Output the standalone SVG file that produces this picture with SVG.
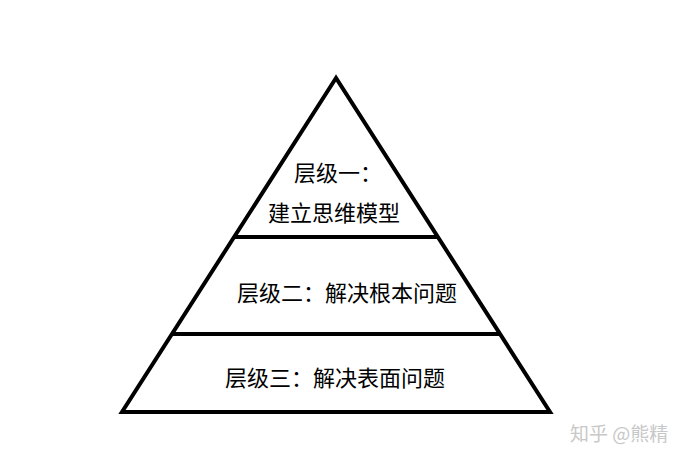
<svg xmlns="http://www.w3.org/2000/svg" width="697" height="465" viewBox="0 0 697 465">
<style>
.e{stroke:#000;stroke-width:4;fill:none;stroke-linejoin:miter}
.t{font-family:"Noto Sans CJK SC",sans-serif;font-size:22px;fill:#000}
.w{font-family:"Noto Sans CJK SC",sans-serif;font-size:19px;fill:#c8c8c8}
</style>
<rect width="697" height="465" fill="#fff"/>
<g id="connectors">
<polygon class="e" points="336,78 122,412 550,412"/>
<line class="e" x1="234" y1="237" x2="438" y2="237"/>
<line class="e" x1="172" y1="334" x2="500" y2="334"/>
</g>
<g id="level1"><text class="t" x="338" y="181" text-anchor="middle">层级一：</text><text class="t" x="334" y="221" text-anchor="middle">建立思维模型</text></g>
<g id="level2"><text class="t" x="347" y="301" text-anchor="middle">层级二：解决根本问题</text></g>
<g id="level3"><text class="t" x="335" y="386" text-anchor="middle">层级三：解决表面问题</text></g>
<g id="watermark"><text class="w" x="570" y="441">知乎 @熊精</text></g>
</svg>
